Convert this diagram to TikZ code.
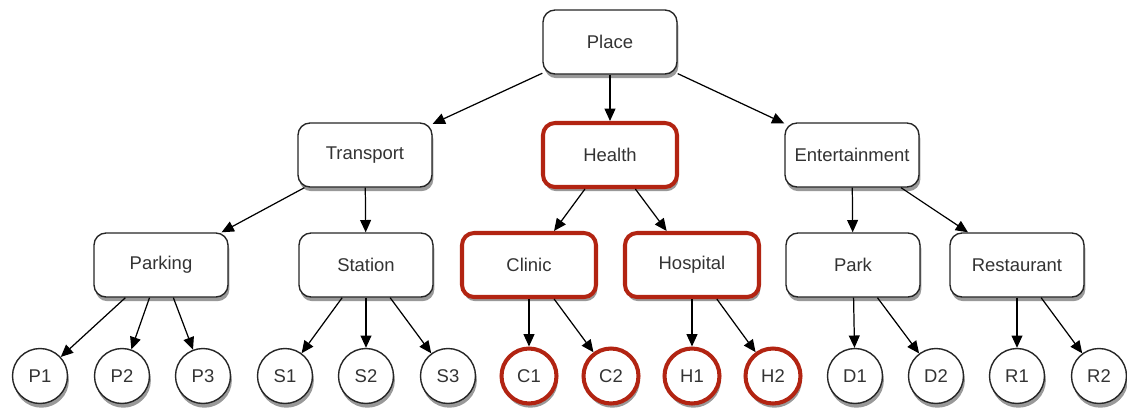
\documentclass[tikz,border=0pt]{standalone}
\usepackage{fontspec}
\setmainfont{Liberation Sans}
\usetikzlibrary{positioning, shadows, arrows.meta}
\definecolor{healthred}{RGB}{178,36,18}

\begin{document}
\begin{tikzpicture}[x=0.02cm, y=-0.02cm,
    font=\fontsize{10.5}{12}\selectfont,
    shade/.style={drop shadow={shadow xshift=0.8pt, shadow yshift=-2.4pt, opacity=0.4, fill=black}},
    cat/.style={draw=black!85, line width=0.8pt, rounded corners=0.24cm, fill=white,
        minimum width=2.68cm, minimum height=1.28cm, text=black!80, shade},
    leaf/.style={draw=black!85, line width=0.8pt, circle, fill=white,
        minimum size=1.1cm, inner sep=0pt, text=black!80, shade},
    hot/.style={draw=healthred, line width=2.3pt},
    link/.style={-{Triangle[length=7pt, width=6.2pt]}, line width=0.7pt}]

    \useasboundingbox (0,0) rectangle (1127,407);

    % Root
    \node[cat] (place) at (610,42) {Place};

    % Second row
    \node[cat] (transport) at (365,155) {Transport};
    \node[cat, hot] (health) at (610,155) {Health};
    \node[cat] (entertain) at (852,155) {Entertainment};

    % Third row
    \node[cat] (parking) at (161,265) {Parking};
    \node[cat] (station) at (366,265) {Station};
    \node[cat, hot] (clinic) at (529,265) {Clinic};
    \node[cat, hot] (hospital) at (692,265) {Hospital};
    \node[cat] (park) at (853,265) {Park};
    \node[cat] (restaurant) at (1017,265) {Restaurant};

    % Leaves
    \node[leaf] (p1) at (40,376) {P1};
    \node[leaf] (p2) at (122,376) {P2};
    \node[leaf] (p3) at (203,376) {P3};
    \node[leaf] (s1) at (285,376) {S1};
    \node[leaf] (s2) at (366,376) {S2};
    \node[leaf] (s3) at (448,376) {S3};
    \node[leaf, hot] (c1) at (529,376) {C1};
    \node[leaf, hot] (c2) at (611,376) {C2};
    \node[leaf, hot] (h1) at (692,376) {H1};
    \node[leaf, hot] (h2) at (773,376) {H2};
    \node[leaf] (d1) at (855,376) {D1};
    \node[leaf] (d2) at (936,376) {D2};
    \node[leaf] (r1) at (1017,376) {R1};
    \node[leaf] (r2) at (1099,376) {R2};

    % Links from the root
    \foreach \kid in {transport, health, entertain}
        \draw[link] (place) -- (\kid);

    % Links to the third row
    \draw[link] (transport) -- (parking);
    \draw[link] (transport) -- (station);
    \draw[link] (health) -- (clinic);
    \draw[link] (health) -- (hospital);
    \draw[link] (entertain) -- (park);
    \draw[link] (entertain) -- (restaurant);

    % Links to the leaves
    \foreach \kid in {p1, p2, p3}
        \draw[link] (parking) -- (\kid);
    \foreach \kid in {s1, s2, s3}
        \draw[link] (station) -- (\kid);
    \draw[link] (clinic) -- (c1);
    \draw[link] (clinic) -- (c2);
    \draw[link] (hospital) -- (h1);
    \draw[link] (hospital) -- (h2);
    \draw[link] (park) -- (d1);
    \draw[link] (park) -- (d2);
    \draw[link] (restaurant) -- (r1);
    \draw[link] (restaurant) -- (r2);
\end{tikzpicture}
\end{document}
